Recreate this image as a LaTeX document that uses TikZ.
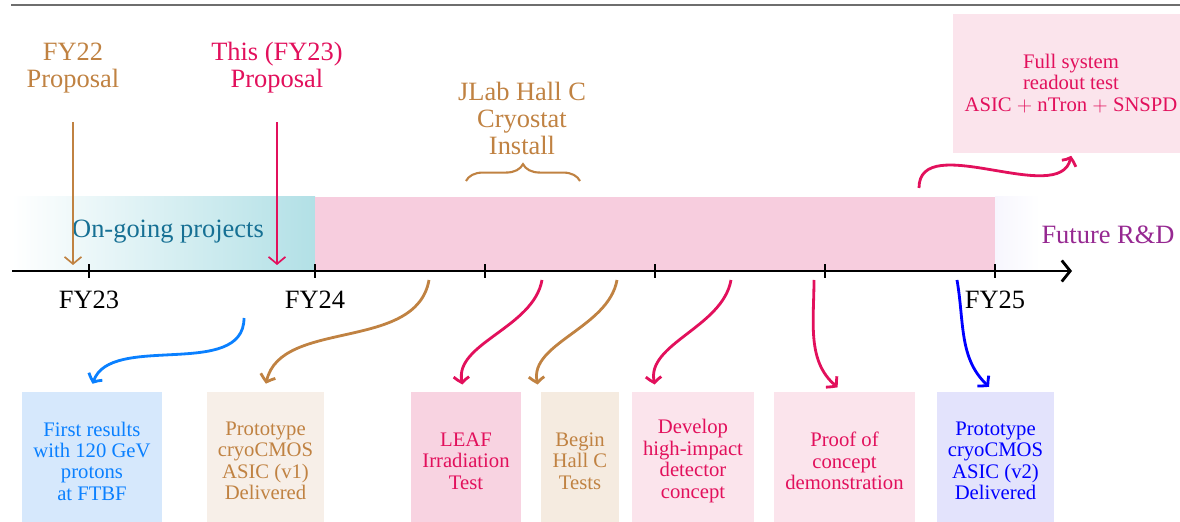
\documentclass[tikz,border=0pt]{standalone}
\usepackage{fontspec}
\setmainfont{Liberation Serif}
\usetikzlibrary{arrows.meta, bending, decorations.pathreplacing, positioning}

\definecolor{fybrown}{RGB}{192,130,66}
\definecolor{fypink}{RGB}{226,16,92}
\definecolor{fyblue}{RGB}{10,128,255}
\definecolor{fyteal}{RGB}{178,224,230}
\definecolor{fytealtext}{RGB}{22,112,148}
\definecolor{fypurple}{RGB}{150,40,145}
\definecolor{fylavender}{RGB}{247,246,254}
\definecolor{bandpink}{RGB}{247,205,222}
\definecolor{boxblue}{RGB}{214,232,252}
\definecolor{boxbrown}{RGB}{247,239,232}
\definecolor{boxsand}{RGB}{245,235,224}
\definecolor{boxpinkdeep}{RGB}{248,211,225}
\definecolor{boxpink}{RGB}{251,228,236}
\definecolor{boxviolet}{RGB}{227,227,252}

\begin{document}
\begin{tikzpicture}[
    x=0.025cm, y=0.025cm,
    bigtext/.style={font=\fontsize{18.8}{19.2}\selectfont, align=center},
    milestone/.style={rectangle, minimum height=3.45cm, inner xsep=8pt, align=center, font=\fontsize{14.7}{15.2}\selectfont},
    curvearrow/.style={line width=2pt, -{Straight Barb[bend, length=5pt, width=11pt]}, shorten >=5.7pt},
    droparrow/.style={line width=1.2pt, -{Straight Barb[length=5pt, width=12pt]}},
    yeartick/.style={line width=2pt}
]
\useasboundingbox (0,0) rectangle (1180,521);

\draw[black!57, line width=1.2pt] (11,516) -- (1190,516);

\shade[left color=white, right color=fyteal] (12,250) rectangle (315,324);
\fill[bandpink] (315,250) rectangle (995,324);
\shade[left color=fylavender, right color=white] (995,250) rectangle (1040,324);

\node[bigtext, text=fytealtext] (ongoing) at (168,289) {On-going projects};
\node[bigtext, text=fypurple] (future) at (1108,286) {Future R\&D};

\draw[line width=2pt, -{Straight Barb[length=6pt, width=15pt]}] (12,250) -- (1072,250);
\foreach \x in {89,315,485,655,825,995}
    \draw[yeartick] (\x,243) -- (\x,257);

\coordinate (t23) at (89,250);
\coordinate (t24) at (315,250);
\coordinate (t25) at (995,250);
\node[bigtext, below=0.38cm of t23] (fy23) {FY23};
\node[bigtext, below=0.38cm of t24] (fy24) {FY24};
\node[bigtext, below=0.38cm of t25] (fy25) {FY25};

\node[bigtext, text=fybrown] (fy22prop) at (73,453) {FY22\\Proposal};
\node[bigtext, text=fypink] (fy23prop) at (277,453) {This (FY23)\\Proposal};
\coordinate (a22) at (73,256);
\coordinate (a23) at (277,256);
\draw[droparrow, fybrown, shorten <=17pt] (fy22prop) -- (a22);
\draw[droparrow, fypink, shorten <=17pt] (fy23prop) -- (a23);

\node[bigtext, text=fybrown] (jlab) at (522,403) {JLab Hall C\\Cryostat\\Install};
\coordinate (braceL) at (466,340);
\coordinate (braceR) at (580,340);
\draw[fybrown, line width=1.5pt, decorate, decoration={brace, amplitude=12pt}] (braceL) -- (braceR);

\node[milestone, fill=boxpink, text=fypink] (fullsys) at (1071,437.5) {Full system\\readout test\\ASIC $+$ nTron $+$ SNSPD};
\coordinate (s0) at (919,333);
\draw[curvearrow, fypink, shorten >=2pt] (s0) to[out=90, in=-90] (fullsys.south);

\node[milestone, fill=boxblue, text=fyblue] (ftbf) at (92,60) {First results\\with 120 GeV\\protons\\at FTBF};
\node[milestone, fill=boxbrown, text=fybrown] (asic1) at (265.5,60) {Prototype\\cryoCMOS\\ASIC (v1)\\Delivered};
\node[milestone, fill=boxpinkdeep, text=fypink] (leaf) at (466,60) {LEAF\\Irradiation\\Test};
\node[milestone, fill=boxsand, text=fybrown] (hallc) at (580,60) {Begin\\Hall C\\Tests};
\node[milestone, fill=boxpink, text=fypink] (develop) at (693,60) {Develop\\high-impact\\detector\\concept};
\node[milestone, fill=boxpink, text=fypink] (proof) at (844.5,60) {Proof of\\concept\\demonstration};
\node[milestone, fill=boxviolet, text=blue] (asic2) at (995.5,60) {Prototype\\cryoCMOS\\ASIC (v2)\\Delivered};

\coordinate (s1) at (244,203);
\coordinate (s2) at (429,241);
\coordinate (s3) at (542,241);
\coordinate (s4) at (617,241);
\coordinate (s5) at (731,241);
\coordinate (s6) at (814,241);
\coordinate (s7) at (957,241);

\draw[curvearrow, fyblue] (s1) to[out=-90, in=90] (ftbf.north);
\draw[curvearrow, fybrown] (s2) to[out=-100, in=90] (asic1.north);
\draw[curvearrow, fypink] (s3) to[out=-100, in=120] (leaf.north);
\draw[curvearrow, fybrown] (s4) to[out=-100, in=120] (hallc.north west);
\draw[curvearrow, fypink] (s5) to[out=-100, in=120] ([xshift=19pt]develop.north west);
\draw[curvearrow, fypink] (s6) to[out=-90, in=150] (proof.north);
\draw[curvearrow, blue] (s7) to[out=-80, in=145] (asic2.north);

\end{tikzpicture}
\end{document}
